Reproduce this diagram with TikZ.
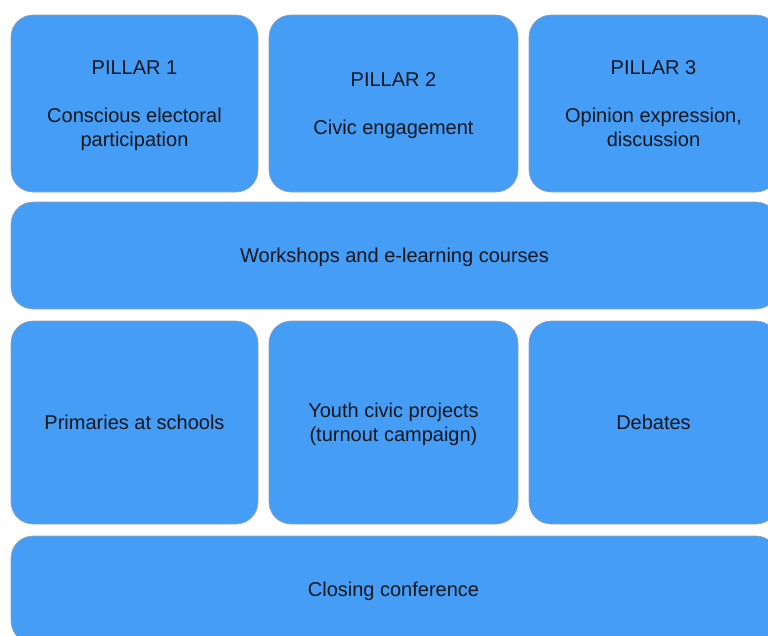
\documentclass[tikz,border=0pt]{standalone}
\usepackage{fontspec}
\setmainfont{Liberation Sans}
\definecolor{boxblue}{RGB}{70,157,246}
\definecolor{boxedge}{RGB}{150,160,175}
\definecolor{txt}{RGB}{20,22,28}
\begin{document}
\begin{tikzpicture}[x=1pt,y=-1pt,
  blk/.style={draw=boxedge, line width=0.6pt, fill=boxblue, rounded corners=22pt,
    inner sep=0pt, align=center, text=txt, text depth=0pt,
    font=\fontsize{20}{24}\selectfont},
]
\useasboundingbox (0,0) rectangle (768,635);
\clip (0,0) rectangle (768,635);
% row 1
\node[blk, minimum width=247pt, minimum height=177pt] (p1) at (134.5,103.5)
  {PILLAR 1\\[24pt]Conscious electoral\\participation};
\node[blk, minimum width=249pt, minimum height=177pt] (p2) at (393.5,103.5)
  {PILLAR 2\\[24pt]Civic engagement};
\node[blk, minimum width=249pt, minimum height=177pt] (p3) at (653.5,103.5)
  {PILLAR 3\\[24pt]Opinion expression,\\discussion};
% row 2
\node[blk, minimum width=767pt, minimum height=107pt] (ws) at (394.5,255.5)
  {Workshops and e-learning courses};
% row 3
\node[blk, minimum width=247pt, minimum height=203pt] (pr) at (134.5,422.5)
  {Primaries at schools};
\node[blk, minimum width=249pt, minimum height=203pt] (yc) at (393.5,422.5)
  {Youth civic projects\\(turnout campaign)};
\node[blk, minimum width=249pt, minimum height=203pt] (db) at (653.5,422.5)
  {Debates};
% row 4
\node[blk, minimum width=767pt, minimum height=107pt] (cc) at (394.5,589.5)
  {\hspace*{-2pt}Closing conference};
\end{tikzpicture}
\end{document}
